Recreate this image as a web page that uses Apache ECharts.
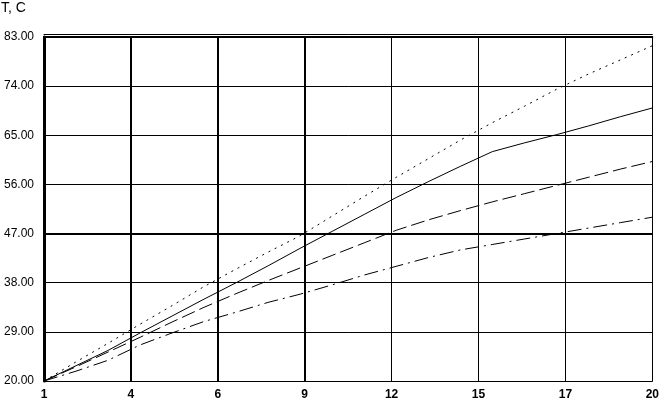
<!DOCTYPE html>
<html>
<head>
<meta charset="utf-8">
<script src="https://cdn.jsdelivr.net/npm/echarts@6/dist/echarts.min.js"></script>
<style>html,body{margin:0;padding:0;background:#fff}#c{width:662px;height:401px}</style>
</head>
<body>
<div id="c"></div>
<script>
const xTickLabels = ['1', '4', '6', '9', '12', '15', '17', '20'];
const yTickLabels = ['20.00', '29.00', '38.00', '47.00', '56.00', '65.00', '74.00', '83.00'];
const tValues = [1, 2, 3, 4, 5, 6, 7, 8, 9, 10, 11, 12, 13, 14, 15, 16, 17, 18, 19, 20];
const dottedSeries = [20, 23.5, 26.9, 30.4, 33.8, 37.3, 40.5, 43.6, 46.6, 50.2, 53.8, 57.3, 60.7, 64.1, 67.3, 70.3, 73.4, 76.2, 78.8, 81.4];
const solidSeries = [20, 22.8, 25.6, 28.8, 31.9, 35.0, 38.0, 41.1, 44.3, 47.4, 50.5, 53.6, 56.5, 59.3, 62.0, 63.6, 65.1, 66.7, 68.4, 70.0];
const dashedSeries = [20, 22.6, 25.3, 28.0, 30.8, 33.5, 36.0, 38.4, 40.7, 43.0, 45.3, 47.6, 49.5, 51.2, 52.8, 54.3, 55.8, 57.3, 58.8, 60.2];
const dashDotSeries = [20, 21.8, 23.8, 26.6, 28.8, 30.9, 32.6, 34.4, 35.9, 37.6, 39.4, 41.0, 42.6, 44.0, 45.0, 46.0, 47.0, 48.0, 49.0, 50.0];
const xMin = 1, xMax = 20, yMin = 20, yMax = 83;

const pair = arr => tValues.map((t, i) => [t, arr[i]]);
const font = 'Liberation Sans, Arial, sans-serif';
const black = '#000';
const hidden = {show: false};

const chart = echarts.init(document.getElementById('c'), null, {renderer: 'canvas'});
chart.setOption({
  animation: false,
  backgroundColor: '#fff',
  title: {text: 'T, C', left: 0, top: 0, padding: [1, 0, 0, 1], textStyle: {fontFamily: font, fontSize: 14, fontWeight: 'normal', color: black}},
  grid: {left: 44, right: 7, top: 37, bottom: 19, containLabel: false},
  xAxis: [
    {type: 'value', min: xMin, max: xMax, show: false},
    {type: 'value', min: 0, max: xTickLabels.length - 1, interval: 1, position: 'bottom',
     axisLine: {show: true, lineStyle: {color: black, width: 1}},
     axisTick: hidden,
     axisLabel: {formatter: v => xTickLabels[v], color: black, fontFamily: font, fontSize: 12, fontWeight: 'bold', margin: 8},
     splitLine: {show: true, lineStyle: {color: black, width: 1}}},
    {type: 'value', min: 0, max: 1, position: 'top',
     axisLine: {show: true, lineStyle: {color: black, width: 2}}, axisTick: hidden, axisLabel: hidden, splitLine: hidden},
    {type: 'value', min: 0, max: 1, position: 'top', offset: 3,
     axisLine: {show: true, lineStyle: {color: black, width: 1}}, axisTick: hidden, axisLabel: hidden, splitLine: hidden}
  ],
  yAxis: [
    {type: 'value', min: yMin, max: yMax, show: false},
    {type: 'value', min: 0, max: yTickLabels.length - 1, interval: 1, position: 'left',
     axisLine: {show: true, lineStyle: {color: black, width: 2}},
     axisTick: hidden,
     axisLabel: {formatter: v => yTickLabels[v], color: black, fontFamily: font, fontSize: 12, margin: 10},
     splitLine: {show: true, lineStyle: {color: black, width: 1}}},
    {type: 'value', min: 0, max: 1, position: 'right',
     axisLine: {show: true, lineStyle: {color: black, width: 3}}, axisTick: hidden, axisLabel: hidden, splitLine: hidden}
  ],
  series: [
    {type: 'line', xAxisIndex: 1, yAxisIndex: 1, data: [[0, 0]], symbol: 'none', lineStyle: {opacity: 0}, silent: true,
     markLine: {silent: true, symbol: ['none', 'none'], label: hidden, animation: false,
       lineStyle: {color: black, width: 2, type: 'solid'},
       data: [{xAxis: 1}, {xAxis: 2}, {xAxis: 3}, {yAxis: 3}]}},
    {type: 'line', name: 'dotted', xAxisIndex: 0, yAxisIndex: 0, data: pair(dottedSeries), showSymbol: false, symbol: 'none',
     lineStyle: {color: black, width: 1, type: [2, 5]}},
    {type: 'line', name: 'solid', xAxisIndex: 0, yAxisIndex: 0, data: pair(solidSeries), showSymbol: false, symbol: 'none',
     lineStyle: {color: black, width: 1, type: 'solid'}},
    {type: 'line', name: 'dashed', xAxisIndex: 0, yAxisIndex: 0, data: pair(dashedSeries), showSymbol: false, symbol: 'none',
     lineStyle: {color: black, width: 1, type: [14, 5]}},
    {type: 'line', name: 'dashdot', xAxisIndex: 0, yAxisIndex: 0, data: pair(dashDotSeries), showSymbol: false, symbol: 'none',
     lineStyle: {color: black, width: 1, type: [14, 5, 2, 5]}}
  ]
});
</script>
</body>
</html>
